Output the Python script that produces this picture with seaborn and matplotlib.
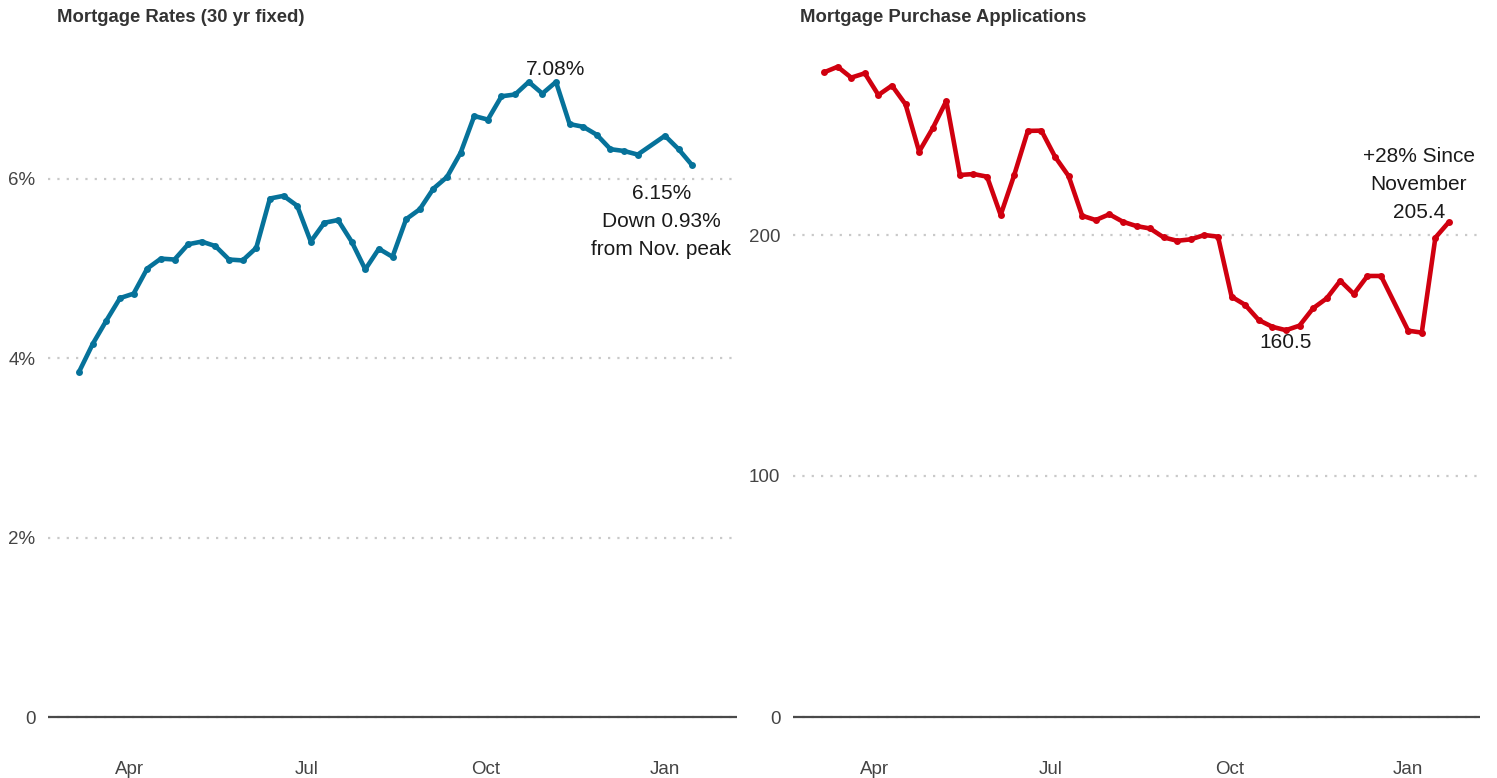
import matplotlib
matplotlib.use("Agg")
import matplotlib.pyplot as plt
import seaborn as sns
import pandas as pd

# ---------------- data ----------------
week_dates = [
    "2022-03-06", "2022-03-13", "2022-03-20", "2022-03-27", "2022-04-03", "2022-04-10",
    "2022-04-17", "2022-04-24", "2022-05-01", "2022-05-08", "2022-05-15", "2022-05-22",
    "2022-05-29", "2022-06-05", "2022-06-12", "2022-06-19", "2022-06-26", "2022-07-03",
    "2022-07-10", "2022-07-17", "2022-07-24", "2022-07-31", "2022-08-07", "2022-08-14",
    "2022-08-21", "2022-08-28", "2022-09-04", "2022-09-11", "2022-09-18", "2022-09-25",
    "2022-10-02", "2022-10-09", "2022-10-16", "2022-10-23", "2022-10-30", "2022-11-06",
    "2022-11-13", "2022-11-20", "2022-11-27", "2022-12-04", "2022-12-11", "2022-12-18",
    "2023-01-01", "2023-01-08", "2023-01-15", "2023-01-22",
]

mortgage_rate = [
    3.85, 4.16, 4.42, 4.67, 4.72, 5.00, 5.11, 5.10, 5.27, 5.30, 5.25, 5.10,
    5.09, 5.23, 5.78, 5.81, 5.70, 5.30, 5.51, 5.54, 5.30, 4.99, 5.22, 5.13,
    5.55, 5.66, 5.89, 6.02, 6.29, 6.70, 6.66, 6.92, 6.94, 7.08, 6.95, 7.08,
    6.61, 6.58, 6.49, 6.33, 6.31, 6.27, 6.48, 6.33, 6.15,
]

purchase_index = [
    267.5, 269.8, 265.3, 267.1, 258.1, 262.0, 254.2, 234.6, 244.3, 255.6, 224.9, 225.3,
    224.2, 208.3, 224.9, 243.2, 243.3, 232.5, 224.5, 208.0, 206.2, 208.6, 205.5, 203.7,
    202.7, 199.0, 197.6, 198.2, 200.0, 199.3, 174.4, 171.0, 164.7, 161.9, 160.5, 162.4,
    169.6, 173.7, 181.0, 175.5, 183.0, 183.0, 160.3, 159.5, 198.9, 205.4,
]

month_ticks = ["2022-04-01", "2022-07-01", "2022-10-01", "2023-01-01"]
month_labels = ["Apr", "Jul", "Oct", "Jan"]

rate_ticks = [0, 2, 4, 6]
rate_labels = ["0", "2%", "4%", "6%"]
app_ticks = [0, 100, 200]
app_labels = ["0", "100", "200"]

titles = ["Mortgage Rates (30 yr fixed)", "Mortgage Purchase Applications"]

df_rate = pd.DataFrame({"date": pd.to_datetime(week_dates[:len(mortgage_rate)]),
                        "value": mortgage_rate})
df_app = pd.DataFrame({"date": pd.to_datetime(week_dates[:len(purchase_index)]),
                       "value": purchase_index})

# ---------------- style ----------------
sns.set_style("white")
plt.rcParams["font.family"] = ["Liberation Sans", "DejaVu Sans"]

W, H = 1497, 778
fig = plt.figure(figsize=(W / 100, H / 100), dpi=100)

def px_axes(x0, x1, y_top, y_bot):
    return fig.add_axes([x0 / W, 1 - y_bot / H, (x1 - x0) / W, (y_bot - y_top) / H])

ax1 = px_axes(48, 737, 45, 740)
ax2 = px_axes(793, 1480, 45, 740)

blue = "#06729A"
red = "#D0000F"
grid_col = "#c9c9c9"
tick_col = "#444444"
text_col = "#1a1a1a"

xlim = (pd.Timestamp("2022-02-18"), pd.Timestamp("2023-02-07"))

for ax, df, col in [(ax1, df_rate, blue), (ax2, df_app, red)]:
    sns.lineplot(data=df, x="date", y="value", ax=ax, color=col, linewidth=3.3,
                 marker="o", markersize=5.0, markeredgewidth=0, zorder=3)
    ax.set_xlim(*xlim)
    for s in ax.spines.values():
        s.set_visible(False)
    ax.set_xlabel("")
    ax.set_ylabel("")
    ax.set_xticks(pd.to_datetime(month_ticks))
    ax.set_xticklabels(month_labels)
    ax.tick_params(axis="x", length=0, pad=15, labelsize=13.5, labelcolor=tick_col)
    ax.tick_params(axis="y", length=0, pad=9, labelsize=13.5, labelcolor=tick_col)
    ax.grid(axis="y", color=grid_col, linestyle=(0, (1, 3.2)), linewidth=1.6)
    ax.grid(axis="x", visible=False)
    ax.axhline(0, color="#4a4a4a", linewidth=1.6, zorder=2)

# y ranges: 0 at pixel 717
ax1.set_ylim(-23 / 89.7, 672 / 89.7)
ax1.set_yticks(rate_ticks)
ax1.set_yticklabels(rate_labels)
ax2.set_ylim(-23 / 2.41, 672 / 2.41)
ax2.set_yticks(app_ticks)
ax2.set_yticklabels(app_labels)

fs_ann = 15
# left annotations
peak_idx = 35
ax1.annotate(f"{mortgage_rate[peak_idx]:.2f}%",
             xy=(df_rate["date"][peak_idx], mortgage_rate[peak_idx]),
             xytext=(0, 9), textcoords="offset points", ha="center", va="center",
             fontsize=fs_ann, color=text_col)
last = len(mortgage_rate) - 1
ax1.annotate(f"{mortgage_rate[last]:.2f}%\nDown {mortgage_rate[peak_idx]-mortgage_rate[last]:.2f}%\nfrom Nov. peak",
             xy=(df_rate["date"][last], mortgage_rate[last]),
             xytext=(-22.3, -40.3), textcoords="offset points", ha="center", va="center",
             multialignment="center", linespacing=1.62, fontsize=fs_ann, color=text_col)

# right annotations
min_idx = purchase_index.index(min(purchase_index[:40]))
ax2.annotate(f"{purchase_index[min_idx]:.1f}",
             xy=(df_app["date"][min_idx], purchase_index[min_idx]),
             xytext=(0, -8.5), textcoords="offset points", ha="center", va="center",
             fontsize=fs_ann, color=text_col)
lastr = len(purchase_index) - 1
ax2.annotate(f"+28% Since\nNovember\n{purchase_index[lastr]:.1f}",
             xy=(df_app["date"][lastr], purchase_index[lastr]),
             xytext=(-21.6, 27.0), textcoords="offset points", ha="center", va="center",
             multialignment="center", linespacing=1.62, fontsize=fs_ann, color=text_col)

# titles
fig.text(57 / W, 1 - 18 / H, titles[0], ha="left", va="center", fontsize=13.3,
         fontweight="bold", color="#333333")
fig.text(800 / W, 1 - 18 / H, titles[1], ha="left", va="center", fontsize=13.3,
         fontweight="bold", color="#333333")

fig.savefig("out.png", dpi=100, facecolor="white")
